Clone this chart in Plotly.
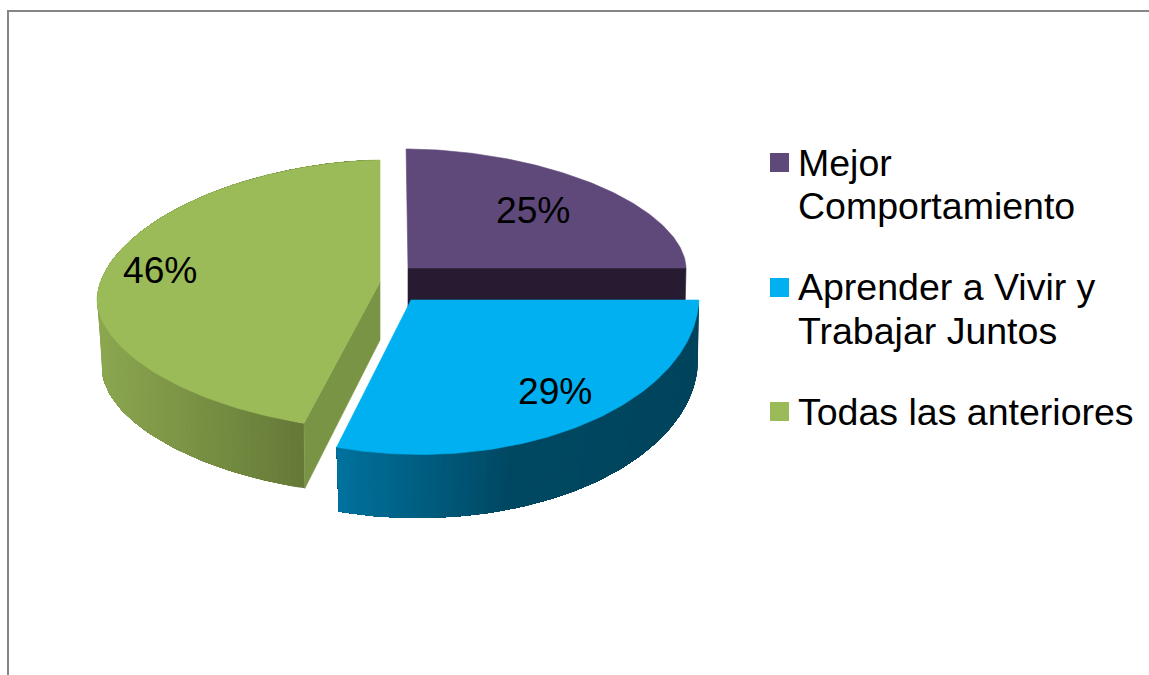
import numpy as np
import plotly.graph_objects as go

categories = ["Mejor<br>Comportamiento", "Aprender a Vivir y<br>Trabajar Juntos", "Todas las anteriores"]
values = [25, 29, 46]
top_colors = ["#5F497A", "#00B0F0", "#9BBB59"]

W, H = 1149, 675
# screen geometry of each exploded slice: apex, rim ellipse, depth
GEOM = [
    dict(ax=408, ay=268, cx=408, a=278, ey=268, bu=119, bd=119, p=1.85, tilt=-0.008, k=0.5),
    dict(ax=411, ay=300, cx=420, a=279, ey=296, bu=159, bd=158.5, p=2.0, tilt=0.0, k=0.508),
    dict(ax=380, ay=282, cx=384, a=287, ey=300, bu=140, bd=130, p=1.85, tilt=0.0, k=0.477),
]
BOTTOM = [
    None,
    dict(ax=410, ay=365, cx=418, a=280, ey=359, bu=159, bd=159, p=2.0, tilt=0.0, k=0.528),
    dict(ax=380, ay=340, cx=384, a=282, ey=369, bu=138, bd=126, p=1.85, tilt=0.0, k=0.507),
]
SIDE_STOPS = [
    None,
    [(338, (0, 114, 158)), (510, (0, 72, 98)), (700, (0, 68, 92))],
    [(97, (140, 167, 80)), (305, (100, 121, 55))],
]
CUT_COLORS = ["#261B30", None, "#7A9445"]
LABEL_POS = [(533, 210), (555, 391), (160, 270)]
SWATCH_X, SWATCH_Y = 779.5, [162.5, 287.5, 411.5]
LEGEND_X = 795.5
LEGEND_BASE = [[176, 219], [300, 344], [425]]
FS_LABEL, FS_LEGEND = 37.2, 37.5


def rim_point(g, th):
    dx = np.sin(th) + g["tilt"] * np.cos(th)
    dy = -g["k"] * np.cos(th)
    lo, hi = 0.0, 2000.0
    for _ in range(50):
        r = (lo + hi) / 2
        x, y = g["ax"] + r * dx, g["ay"] + r * dy
        b = g["bu"] if y < g["ey"] else g["bd"]
        f = abs((x - g["cx"]) / g["a"]) ** g["p"] + abs((y - g["ey"]) / b) ** g["p"] - 1
        if f > 0:
            hi = r
        else:
            lo = r
    return g["ax"] + lo * dx, g["ay"] + lo * dy


def poly(fig, xs, ys, color, lw=0.6):
    fig.add_trace(go.Scatter(
        x=list(xs) + [xs[0]], y=list(ys) + [ys[0]], mode="lines", fill="toself",
        fillcolor=color, line=dict(color=color, width=lw), hoverinfo="skip", showlegend=False,
    ))


def side_color(stops, x):
    xp = [s[0] for s in stops]
    rgb = [np.interp(x, xp, [s[1][i] for s in stops]) for i in range(3)]
    return "rgb(%d,%d,%d)" % tuple(int(round(c)) for c in rgb)


total = sum(values)
edges = np.cumsum([0] + values) / total * 2 * np.pi
fig = go.Figure()


def draw_slice(i):
    g, b = GEOM[i], BOTTOM[i]
    t0, t1 = edges[i], edges[i + 1]
    ths = np.linspace(t0, t1, 120)
    top = [rim_point(g, t) for t in ths]
    if b is not None:
        bot = [rim_point(b, t) for t in ths]
        # nested strips: each one reaches to the end of the arc, so no seams appear
        for j in range(len(ths) - 1):
            xs = [p[0] for p in top[j:]] + [p[0] for p in bot[j:][::-1]]
            ys = [p[1] for p in top[j:]] + [p[1] for p in bot[j:][::-1]]
            mid = (top[j][0] + top[j + 1][0] + bot[j][0] + bot[j + 1][0]) / 4
            poly(fig, xs, ys, side_color(SIDE_STOPS[i], mid), lw=0)
    if i == 2:
        xs = [g["ax"], top[0][0], bot[0][0], b["ax"]]
        ys = [g["ay"], top[0][1], bot[0][1], b["ay"]]
        poly(fig, xs, ys, CUT_COLORS[i])
    if i == 0:
        xs = [g["ax"], top[-1][0], top[-1][0] - 1, g["ax"]]
        ys = [g["ay"], top[-1][1], top[-1][1] + 42, g["ay"] + 42]
        poly(fig, xs, ys, CUT_COLORS[i])
    poly(fig, [g["ax"]] + [p[0] for p in top], [g["ay"]] + [p[1] for p in top], top_colors[i])


for i in (2, 0, 1):
    draw_slice(i)

# percentage labels
for v, (x, y) in zip(values, LABEL_POS):
    fig.add_annotation(x=x, y=y, text="%d%%" % round(v), showarrow=False, xanchor="center", yanchor="middle",
                       font=dict(family="Liberation Sans", size=FS_LABEL, color="black"))

# legend
fig.add_trace(go.Scatter(x=[SWATCH_X] * 3, y=SWATCH_Y, mode="markers", hoverinfo="skip", showlegend=False,
                         marker=dict(symbol="square", size=19, color=top_colors, line=dict(width=0))))
for cat, bases in zip(categories, LEGEND_BASE):
    for line, base in zip(cat.split("<br>"), bases):
        fig.add_annotation(x=LEGEND_X, y=base - 0.36 * FS_LEGEND, text=line, showarrow=False,
                           xanchor="left", yanchor="middle",
                           font=dict(family="Liberation Sans", size=FS_LEGEND, color="black"))

fig.update_layout(
    width=W, height=H, margin=dict(l=0, r=0, t=0, b=0), autosize=False,
    paper_bgcolor="white", plot_bgcolor="white", showlegend=False,
    xaxis=dict(range=[0, W], visible=False, fixedrange=True),
    yaxis=dict(range=[H, 0], visible=False, fixedrange=True),
    shapes=[
        dict(type="line", x0=8, x1=W, y0=11, y1=11, line=dict(color="#868686", width=2)),
        dict(type="line", x0=8, x1=8, y0=10, y1=H, line=dict(color="#868686", width=2)),
    ],
)
fig.write_html("out.html", config=dict(displayModeBar=False),
               post_script="document.body.style.margin='0';document.body.style.overflow='hidden';")
